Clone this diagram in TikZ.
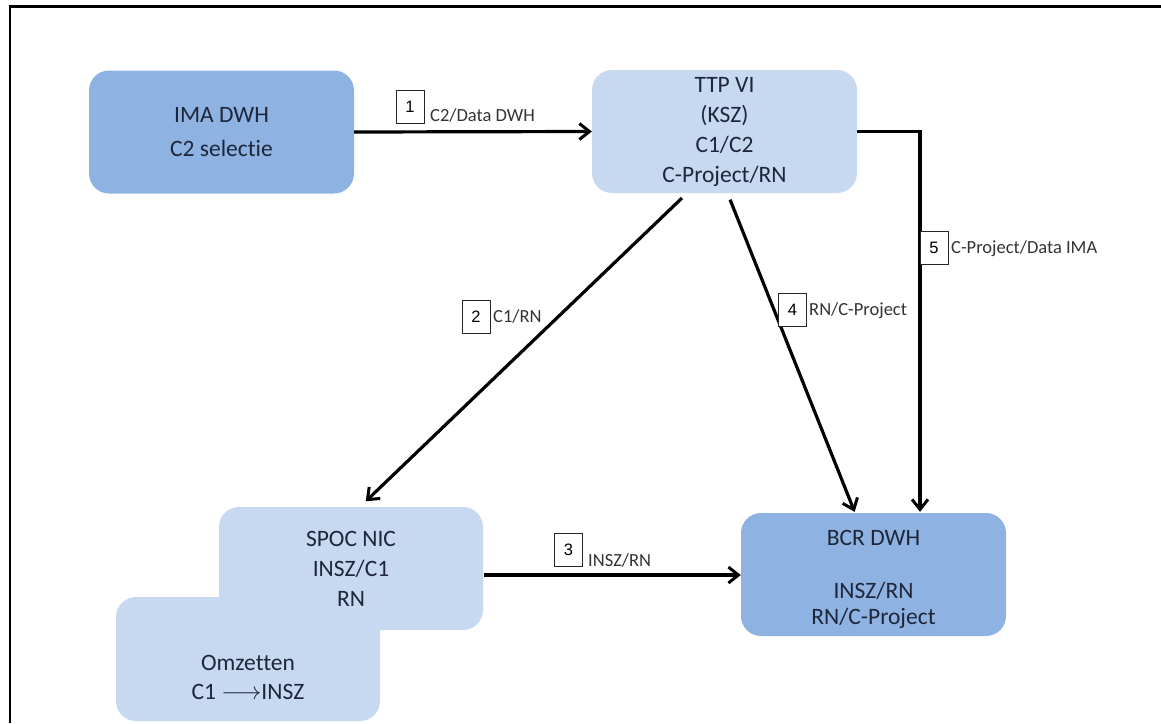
\documentclass[tikz,border=0pt]{standalone}
\usepackage{fontspec}
\setmainfont{Carlito}[RawFeature=-liga]
\newfontfamily\numfont{Liberation Sans}
\usetikzlibrary{arrows.meta}
\definecolor{darkblue}{RGB}{142,179,226}
\definecolor{lightblue}{RGB}{198,217,241}
\definecolor{txtcol}{RGB}{30,38,58}
\tikzset{
  boxbase/.style={rectangle, rounded corners=20pt, draw=none, minimum width=265pt, minimum height=123pt, align=center, text=txtcol, font=\fontsize{23.5}{29}\selectfont, inner sep=0pt},
  darkbox/.style={boxbase, fill=darkblue},
  lightbox/.style={boxbase, fill=lightblue},
  flow/.style={line width=3.2pt, -{Straight Barb[length=10pt,width=16pt,line width=3pt]}},
  numbox/.style={draw=black!85, line width=0.9pt, fill=white, minimum width=28pt, minimum height=33pt, inner sep=0pt, font=\numfont\fontsize{16.5}{18}\selectfont},
  lbl/.style={anchor=west, inner sep=1pt, text=black!80, font=\fontsize{18.5}{20}\selectfont},
}
\begin{document}
\begin{tikzpicture}[x=1pt,y=-1pt]
\useasboundingbox (0,0) rectangle (1161,723);
% frame
\draw[line width=2.4pt] (10,723) -- (10,6.5) -- (1161,6.5);
% boxes
\node[darkbox, font=\fontsize{23.5}{34}\selectfont] (ima) at (221.5,132) {IMA DWH\\C2 selectie};
\node[lightbox, font=\fontsize{23.5}{30}\selectfont] (ttp) at (724.5,131.5) {TTP VI\\(KSZ)\\C1/C2\\C-Project/RN};
\node[lightbox, minimum width=264pt, minimum height=124pt] (omz) at (248,659) {};
\node[lightbox, minimum width=264pt, font=\fontsize{23.5}{30}\selectfont] (spoc) at (351,568.5) {SPOC NIC\\INSZ/C1\\RN};
\node[boxbase, minimum width=0pt, minimum height=0pt] (omzt) at (248,677) {Omzetten\\C1 $\longrightarrow$INSZ};
\node[darkbox] (bcr) at (873.5,574.5) {};
\node[boxbase, minimum width=0pt, minimum height=0pt, font=\fontsize{23.5}{26}\selectfont] (bcrt) at (873.5,579) {BCR DWH\\[27pt]INSZ/RN\\RN/C-Project};
% connectors
\draw[flow] (ima.east) -- (ttp.west);
\draw[flow, shorten <=7pt, shorten >=8pt] ([xshift=-37.5pt]ttp.south) -- ([xshift=9pt]spoc.north);
\draw[flow, shorten <=1pt] ([yshift=-6.5pt]spoc.east) -- ([yshift=-0.5pt]bcr.west);
\draw[flow, shorten <=7pt, shorten >=1pt] ([xshift=3pt]ttp.south) -- ([xshift=-18.5pt]bcr.north);
\draw[flow, shorten >=1pt] (ttp.east) -| ([xshift=46.5pt]bcr.north);
% labels
\node[numbox] (n1) at (410,107) {1};
\node[lbl] (l1) at (429,115) {C2/Data DWH};
\node[numbox] (n2) at (476,316.5) {2};
\node[lbl] (l2) at (492,316) {C1/RN};
\node[numbox] (n3) at (568.5,549.5) {3};
\node[lbl] (l3) at (587,560) {INSZ/RN};
\node[numbox] (n4) at (792.5,310) {4};
\node[lbl] (l4) at (808,311) {RN/C-Project};
\node[numbox] (n5) at (934,248) {5};
\node[lbl] (l5) at (950,249) {C-Project/Data IMA};
\end{tikzpicture}
\end{document}
